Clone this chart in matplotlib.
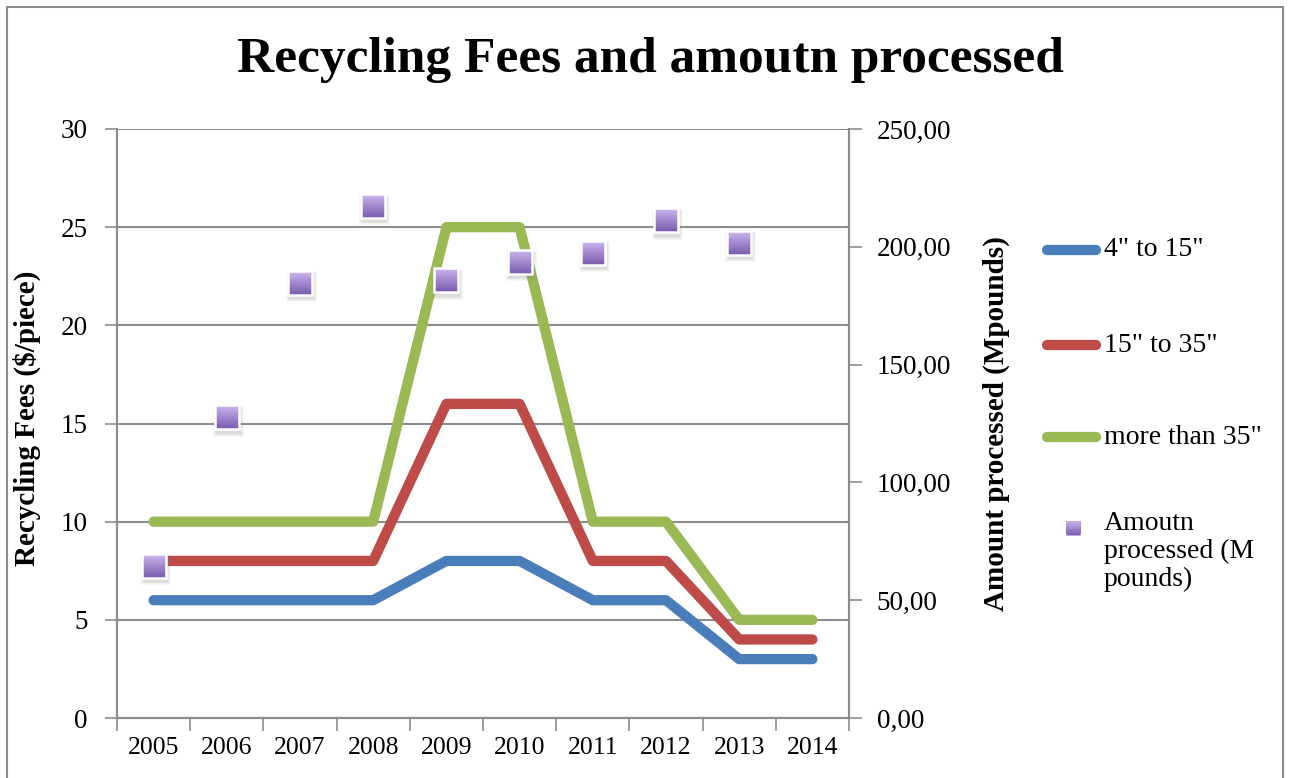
import matplotlib
matplotlib.use("Agg")
import matplotlib.pyplot as plt
from matplotlib.ticker import FixedLocator, FuncFormatter, NullFormatter
from matplotlib.patches import Rectangle
from matplotlib.lines import Line2D
from matplotlib.path import Path
from matplotlib.colors import to_rgb

years = ["2005", "2006", "2007", "2008", "2009", "2010", "2011", "2012", "2013", "2014"]
fee_4_15 = [6, 6, 6, 6, 8, 8, 6, 6, 3, 3]
fee_15_35 = [8, 8, 8, 8, 16, 16, 8, 8, 4, 4]
fee_35_plus = [10, 10, 10, 10, 25, 25, 10, 10, 5, 5]
amount_years = ["2005", "2006", "2007", "2008", "2009", "2010", "2011", "2012", "2013"]
amount_mpounds = [64.6, 127.7, 184.8, 217.5, 185.8, 193.7, 197.5, 211.3, 201.7]

series_labels = ['4" to 15"', '15" to 35"', 'more than 35"']
amount_label = "Amoutn\nprocessed (M\npounds)"
left_ticks = [0, 5, 10, 15, 20, 25, 30]
right_ticks = [0, 50, 100, 150, 200, 250]

SERIF = ["Liberation Serif", "DejaVu Serif"]
plt.rcParams["font.family"] = SERIF

W, H = 1290, 778
fig = plt.figure(figsize=(W / 100, H / 100), dpi=100)
ax = fig.add_axes([117 / W, 1 - 718 / H, (849 - 117) / W, (718 - 129) / H])
ax2 = ax.twinx()

grey = "#8c8c8c"
colors = ["#4A7EBB", "#BE4B48", "#98B954"]
x = list(range(len(years)))
for vals, c, lab in zip([fee_4_15, fee_15_35, fee_35_plus], colors, series_labels):
    ax.plot(x, vals, color=c, lw=7.4, solid_capstyle="round", solid_joinstyle="round", label=lab, zorder=3)

# gradient square markers: stacked top-anchored rectangles, darkest (full) first
def top_rect(y0):
    return Path([(-1, y0), (1, y0), (1, 1), (-1, 1), (-1, y0)],
                [Path.MOVETO, Path.LINETO, Path.LINETO, Path.LINETO, Path.CLOSEPOLY])

light, dark = to_rgb("#C8B1EA"), to_rgb("#7A5AAF")
nb = 12
band_cols = [tuple(l + (d - l) * i / (nb - 1) for l, d in zip(light, dark)) for i in range(nb)]

def gradient_square(axis, xs, ys, ms, z, edge=True):
    for i in reversed(range(nb)):
        y0 = 1 - 2 * (i + 1) / nb
        axis.plot(xs, ys, ls="none", marker=top_rect(y0), ms=ms, mfc=band_cols[i], mec="none", zorder=z)
    if edge:
        axis.plot(xs, ys, ls="none", marker="s", ms=ms, mfc="none", mec="white", mew=1.8, zorder=z + 0.1)

xa = [years.index(y) for y in amount_years]
# soft shadow
for k, al in [(0, 0.18), (1, 0.12)]:
    ax2.plot([v + 0.015 for v in xa], [a - 1.5 for a in amount_mpounds], ls="none", marker="s",
             ms=19 + 2 * k, mfc="#808080", mec="none", alpha=al, zorder=3.5)
gradient_square(ax2, xa, amount_mpounds, 17, 4)

ax.set_xlim(-0.5, len(years) - 0.5)
ax.set_ylim(0, 30)
ax2.set_ylim(0, 250)

ax.xaxis.set_major_locator(FixedLocator([i - 0.5 for i in range(len(years) + 1)]))
ax.xaxis.set_major_formatter(NullFormatter())
ax.xaxis.set_minor_locator(FixedLocator(x))
ax.set_xticklabels(years, minor=True)
ax.tick_params(axis="x", which="major", direction="out", length=9, width=1.2, color=grey)
ax.tick_params(axis="x", which="minor", length=0, pad=14, labelsize=18.5)

ax.set_yticks(left_ticks)
ax.tick_params(axis="y", direction="out", length=9, width=1.2, color=grey, labelsize=19.5, pad=12)
ax2.set_yticks(right_ticks)
ax2.yaxis.set_major_formatter(FuncFormatter(lambda v, p: f"{v:.2f}".replace(".", ",")))
ax2.tick_params(axis="y", direction="out", length=9, width=1.2, color=grey, labelsize=19.5, pad=11)

ax.grid(axis="y", color=grey, lw=1.5)
ax.set_axisbelow(True)
for a in (ax, ax2):
    a.spines["top"].set_visible(False)
    for s in ("left", "right", "bottom"):
        a.spines[s].set_color(grey)
        a.spines[s].set_linewidth(1.5)

ax.set_ylabel("Recycling Fees ($/piece)", fontsize=21, fontweight="bold")
ax.yaxis.set_label_coords((41 - 117) / 732, (718 - 418) / 589)
ax2.set_ylabel("Amount processed (Mpounds)", fontsize=21, fontweight="bold")
ax2.yaxis.set_label_coords((983 - 117) / 732, (718 - 424) / 589)

fig.text(650 / W, 1 - 60 / H, "Recycling Fees and amoutn processed", ha="center", va="center",
         fontsize=37, fontweight="bold")

# legend (drawn in figure coordinates)
leg_y = [250, 345, 437]
for c, lab, yy in zip(colors, series_labels, leg_y):
    fig.add_artist(Line2D([1047 / W, 1096 / W], [1 - yy / H, 1 - yy / H], color=c, lw=7.4,
                          solid_capstyle="round", transform=fig.transFigure))
    fig.text(1104 / W, 1 - yy / H, lab, ha="left", va="center", fontsize=20)
lax = fig.add_axes([1060 / W, 1 - 541 / H, 26 / W, 26 / H])
lax.set_xlim(-1, 1)
lax.set_ylim(-1, 1)
lax.axis("off")
gradient_square(lax, [0], [0], 10.5, 4, edge=False)
fig.text(1104 / W, 1 - 511 / H, amount_label, ha="left", va="top", fontsize=20, linespacing=1.15)

fig.patches.append(Rectangle((7 / W, -0.01), (1283 - 7) / W, 1 - 7 / H + 0.01, transform=fig.transFigure,
                             fill=False, ec="#8c8c8c", lw=1.5))

fig.savefig("out.png", dpi=100)
